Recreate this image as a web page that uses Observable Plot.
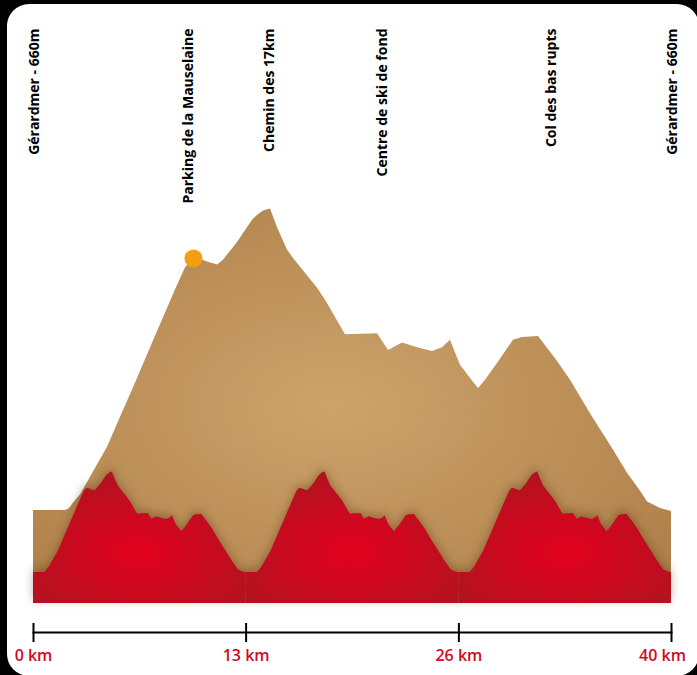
<!DOCTYPE html>
<html><head><meta charset="utf-8">
<script src="https://cdn.jsdelivr.net/npm/d3@7"></script>
<script src="https://cdn.jsdelivr.net/npm/@observablehq/plot@0.6"></script>
<style>
html,body{margin:0;padding:0;background:#000;width:697px;height:675px;overflow:hidden;}
#card{position:absolute;left:7px;top:4px;width:692px;height:672px;background:#fff;border-radius:22px;}
#chart{position:absolute;left:0;top:0;}
#chart svg{background:transparent;}
</style></head><body><div id="card"></div><div id="chart"></div>
<script>
// Elevation profile (km, m)
const distanceKm = [0, 2.01, 2.26, 2.51, 2.95, 3.45, 4.64, 5.45, 6.27, 7.34, 8.90, 9.53, 10.03, 10.47, 10.91, 11.54, 11.91, 12.79, 13.73, 14.04, 14.42, 14.86, 15.30, 15.92, 16.30, 17.05, 17.81, 18.31, 19.56, 21.57, 22.26, 22.70, 23.13, 24.08, 25.02, 25.64, 26.14, 26.77, 27.40, 27.90, 28.34, 29.09, 30.09, 30.66, 31.66, 32.73, 33.67, 34.92, 36.36, 37.24, 38.05, 38.50, 39.31, 40.00];
const elevationM = [660, 660, 662, 668, 677, 692, 728, 760, 792, 835, 897, 921, 931, 930, 927, 924, 929, 948, 972, 977, 982, 984, 964, 940, 931, 915, 899, 886, 849, 850, 832, 836, 840, 835, 831, 835, 843, 816, 802, 791, 800, 818, 843, 846, 847, 823, 800, 764, 725, 700, 681, 669, 662, 659];
const baseM = 560;

// Waypoints
const waypointNames = ["Gérardmer - 660m", "Parking de la Mauselaine", "Chemin des 17km", "Centre de ski de fond", "Col des bas rupts", "Gérardmer - 660m"];
const waypointKm = [0, 9.6, 14.7, 21.8, 32.4, 40];

// Current position marker
const markerKm = [10.03];
const markerM = [931];

// Axis ticks
const tickKm = [0, 13.33, 26.67, 40];
const tickLabels = ["0 km", "13 km", "26 km", "40 km"];

// Mini profile thumbnails (three segments)
const segments = [0, 1, 2];

const profile = distanceKm.map((km, i) => ({km, elev: elevationM[i]}));
const thumbs = segments.flatMap(s => profile.map(p => ({
  seg: s,
  km: s * 40 / 3 + p.km / 3,
  elev: baseM + (p.elev - baseM) / 3
})));
const waypoints = waypointNames.map((name, i) => ({name, km: waypointKm[i]}));
const marker = markerKm.map((km, i) => ({km, elev: markerM[i]}));
const lastTick = tickKm.length - 1;
const labelFor = d => tickLabels[tickKm.indexOf(d)];

const chart = Plot.plot({
  width: 697,
  height: 675,
  marginLeft: 33,
  marginRight: 26,
  marginTop: 28,
  marginBottom: 43,
  style: {background: "transparent", fontFamily: "'Open Sans', sans-serif", overflow: "visible"},
  x: {domain: [0, 40], label: null},
  y: {domain: [baseM, 1000], range: [603, 193.7], axis: null},
  marks: [
    Plot.areaY(profile, {x: "km", y1: baseM, y2: "elev", fill: "url(#brownGrad)"}),
    Plot.areaY(thumbs, {x: "km", y1: baseM, y2: "elev", z: "seg", fill: "url(#redGrad)"}),
    Plot.dot(marker, {x: "km", y: "elev", r: 9, fill: "#f4a00e", stroke: "none"}),
    Plot.text(waypoints, {x: "km", text: "name", frameAnchor: "top", rotate: -90, textAnchor: "end", fontSize: 14, fontWeight: 700, fill: "#000", dx: -4}),
    Plot.frame({anchor: "bottom", strokeWidth: 2, stroke: "#000"}),
    Plot.axisX(tickKm, {tickSize: 19, dy: -9, fill: "none", stroke: "#000", strokeWidth: 2, label: null}),
    Plot.axisX(tickKm.slice(0, lastTick), {tickSize: 0, stroke: "none", tickFormat: labelFor, fill: "#cf0a22", fontSize: 16, fontWeight: 600, tickPadding: 17, label: null}),
    Plot.axisX(tickKm.slice(lastTick), {tickSize: 0, stroke: "none", tickFormat: labelFor, fill: "#cf0a22", fontSize: 16, fontWeight: 600, tickPadding: 17, dx: -9, label: null})
  ]
});

document.getElementById("chart").appendChild(chart);

const svg = d3.select(chart);
const defs = svg.insert("defs", ":first-child");
const bg = defs.append("radialGradient").attr("id", "brownGrad")
  .attr("cx", 0.47).attr("cy", 0.5).attr("r", 0.65);
bg.append("stop").attr("offset", "0%").attr("stop-color", "#cda36c");
bg.append("stop").attr("offset", "100%").attr("stop-color", "#b0804a");
const rg = defs.append("radialGradient").attr("id", "redGrad")
  .attr("cx", 0.5).attr("cy", 0.62).attr("r", 0.6);
rg.append("stop").attr("offset", "0%").attr("stop-color", "#e2001e");
rg.append("stop").attr("offset", "100%").attr("stop-color", "#b3121f");
svg.selectAll('[fill="url(#redGrad)"]').style("filter", "drop-shadow(0px -3px 5px rgba(70,35,0,0.35))");
</script>
</body></html>
